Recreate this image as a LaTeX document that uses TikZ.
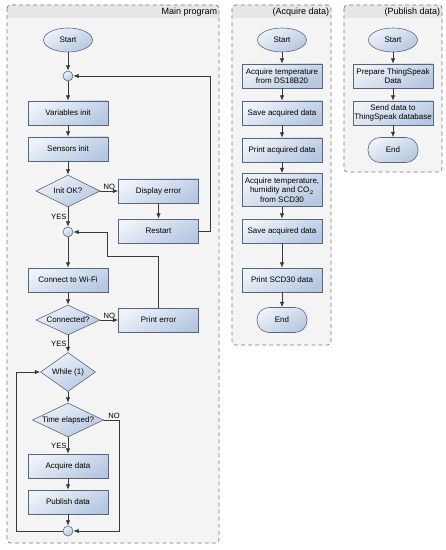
\documentclass[tikz,border=0pt]{standalone}
\usepackage{fontspec}
\setmainfont{Liberation Sans}
\usetikzlibrary{arrows.meta,shapes.geometric}
\definecolor{boxtop}{HTML}{EEF2F9}
\definecolor{boxbot}{HTML}{B6C8E1}
\definecolor{boxline}{HTML}{5A6678}
\definecolor{flowline}{HTML}{3A3A3A}
\definecolor{panelfill}{HTML}{F4F4F4}
\definecolor{panelhead}{HTML}{E7E7E7}
\definecolor{panelline}{HTML}{7A7A7A}

\begin{document}
\begin{tikzpicture}[x=0.3mm,y=-0.3mm,>={Latex[length=1.6mm,width=1.3mm]},
  font=\fontsize{6.8}{8}\selectfont,line cap=round,
  bluefill/.style={draw=boxline,line width=0.5pt,top color=boxtop,bottom color=boxbot,shading angle=30},
  procbox/.style={bluefill,rectangle,minimum width=24mm,minimum height=7.2mm,inner sep=1pt,align=center},
  decbox/.style={bluefill,diamond,aspect=2,inner sep=0pt},
  startbox/.style={bluefill,ellipse,minimum width=14.7mm,minimum height=7.2mm,inner sep=0pt},
  endbox/.style={bluefill,rectangle,rounded corners=3.6mm,minimum width=15mm,minimum height=7.5mm,inner sep=0pt},
  joinpt/.style={bluefill,circle,minimum size=3mm,inner sep=0pt},
  flow/.style={draw=flowline,line width=0.6pt,->},
  panel/.style={draw=panelline,dashed,line width=0.6pt,rounded corners=1mm},
  paneltitle/.style={anchor=east,inner sep=0.5pt,font=\fontsize{7.7}{9}\selectfont},
  flowlabel/.style={inner sep=1pt,font=\fontsize{6.5}{7}\selectfont}]
\useasboundingbox (0,0) rectangle (446,550);

% panels
\fill[panelfill,rounded corners=1mm] (7,5) rectangle (219,543);
\fill[panelhead] (7,18) [rounded corners=1mm] -- (7,5) -- (219,5) [sharp corners] -- (219,18) -- cycle;
\draw[panel] (7,5) rectangle (219,543);
\node[paneltitle] (mainTitle) at (218,12) {Main program};

\fill[panelfill,rounded corners=1mm] (232,5) rectangle (331,345);
\fill[panelhead] (232,18) [rounded corners=1mm] -- (232,5) -- (331,5) [sharp corners] -- (331,18) -- cycle;
\draw[panel] (232,5) rectangle (331,345);
\node[paneltitle] (acqTitle) at (330,12) {(Acquire data)};

\fill[panelfill,rounded corners=1mm] (344,5) rectangle (442,172);
\fill[panelhead] (344,18) [rounded corners=1mm] -- (344,5) -- (442,5) [sharp corners] -- (442,18) -- cycle;
\draw[panel] (344,5) rectangle (442,172);
\node[paneltitle] (pubTitle) at (441,12) {(Publish data)};

% main program
\node[startbox] (mStart) at (68,40) {Start};
\node[joinpt] (mJoinA) at (68,76) {};
\node[procbox] (mVars) at (68,113) {Variables init};
\node[procbox] (mSens) at (68,149) {Sensors init};
\node[decbox,minimum width=19.2mm,minimum height=9.6mm] (mInit) at (68,191) {Init OK?};
\node[procbox] (mDispErr) at (158.5,191) {Display error};
\node[procbox] (mRestart) at (158.5,231) {Restart};
\node[joinpt] (mJoinB) at (68,232) {};
\node[procbox] (mWifi) at (68,280) {Connect to Wi-Fi};
\node[decbox,minimum width=19.2mm,minimum height=9mm] (mConn) at (68,320) {Connected?};
\node[procbox] (mPrintErr) at (158.5,320) {Print error};
\node[decbox,minimum width=16.5mm,minimum height=11.7mm] (mWhile) at (68,372) {While (1)};
\node[decbox,minimum width=21.3mm,minimum height=10.2mm] (mTime) at (68,420) {Time elapsed?};
\node[procbox] (mAcq) at (68,466) {Acquire data};
\node[procbox] (mPub) at (68,502) {Publish data};
\node[joinpt] (mJoinC) at (68,531) {};
\coordinate (restartUp) at (210,231);
\coordinate (errUp) at (107,256);
\coordinate (loopLeft) at (16,531);

\draw[flow] (mStart) -- (mJoinA);
\draw[flow] (mJoinA) -- (mVars);
\draw[flow] (mVars) -- (mSens);
\draw[flow] (mSens) -- (mInit);
\draw[flow] (mInit) -- node[flowlabel,above] (noInit) {NO} (mDispErr);
\draw[flow] (mDispErr) -- (mRestart);
\draw[flow] (mRestart) -- (restartUp) |- (mJoinA);
\draw[flow] (mInit) -- node[flowlabel,left] (yesInit) {YES} (mJoinB);
\draw[flow] (mJoinB) -- (mWifi);
\draw[flow] (mWifi) -- (mConn);
\draw[flow] (mConn) -- node[flowlabel,above] (noConn) {NO} (mPrintErr);
\draw[flow] (mPrintErr) |- (errUp) |- (mJoinB);
\draw[flow] (mConn) -- node[flowlabel,left] (yesConn) {YES} (mWhile);
\draw[flow] (mWhile) -- (mTime);
\draw[flow] (mTime) -- node[flowlabel,left] (yesTime) {YES} (mAcq);
\draw[flow] (mAcq) -- (mPub);
\draw[flow] (mPub) -- (mJoinC);
\draw[flow] (mTime.east) -- node[flowlabel,above,pos=0.65] (noTime) {NO} ++(16,0) |- (mJoinC);
\draw[flow] (mJoinC) -- (loopLeft) |- (mWhile);

% acquire data
\node[startbox] (aStart) at (282,40) {Start};
\node[procbox] (aTemp) at (282,76) {Acquire temperature\\from DS18B20};
\node[procbox] (aSave) at (282,113) {Save acquired data};
\node[procbox] (aPrint) at (282,150) {Print acquired data};
\node[procbox,minimum height=9.9mm] (aScd) at (282,190) {Acquire temperature,\\humidity and CO$_2$\\from SCD30};
\node[procbox] (aSaveScd) at (282,231) {Save acquired data};
\node[procbox] (aPrintScd) at (282,280) {Print SCD30 data};
\node[endbox] (aEnd) at (282,320) {End};

\draw[flow] (aStart) -- (aTemp);
\draw[flow] (aTemp) -- (aSave);
\draw[flow] (aSave) -- (aPrint);
\draw[flow] (aPrint) -- (aScd);
\draw[flow] (aScd) -- (aSaveScd);
\draw[flow] (aSaveScd) -- (aPrintScd);
\draw[flow] (aPrintScd) -- (aEnd);

% publish data
\node[startbox] (pStart) at (393,40) {Start};
\node[procbox] (pPrep) at (393,76) {Prepare ThingSpeak\\Data};
\node[procbox] (pSend) at (393,113) {Send data to\\ThingSpeak database};
\node[endbox] (pEnd) at (393,150) {End};

\draw[flow] (pStart) -- (pPrep);
\draw[flow] (pPrep) -- (pSend);
\draw[flow] (pSend) -- (pEnd);
\end{tikzpicture}
\end{document}
